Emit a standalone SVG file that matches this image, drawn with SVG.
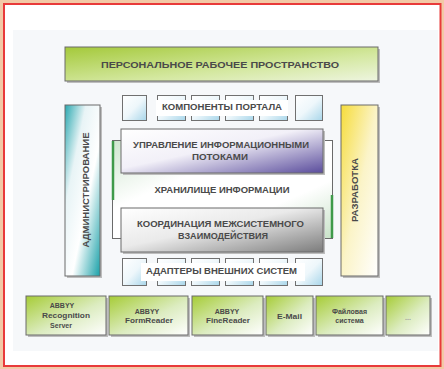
<svg xmlns="http://www.w3.org/2000/svg" width="444" height="369" viewBox="0 0 444 369">
<defs>
<style>
.t{font-family:"Liberation Sans",Arial,sans-serif;font-weight:bold;fill:#4a4a4a;text-anchor:middle;dominant-baseline:central}
.b{font-size:8.5px}
.s{font-size:7px}
.box{stroke:#6a6a6a;stroke-width:1}
.sh{fill:#bdbdbd}
.cell{fill:url(#gBlue);stroke:#707070;stroke-width:1}
</style>
<linearGradient id="gTop" x1="0" y1="0" x2="1" y2="1"><stop offset="0" stop-color="#a4c93a"/><stop offset="0.6" stop-color="#d4e8a0"/><stop offset="1" stop-color="#eef5e0"/></linearGradient>
<linearGradient id="gGreen" x1="0" y1="0" x2="1" y2="1"><stop offset="0" stop-color="#a6cc36"/><stop offset="0.55" stop-color="#dcecc0"/><stop offset="1" stop-color="#ffffff"/></linearGradient>
<linearGradient id="gBlue" x1="0" y1="0" x2="1" y2="1"><stop offset="0" stop-color="#ffffff"/><stop offset="0.5" stop-color="#eef7fb"/><stop offset="1" stop-color="#a8d6ea"/></linearGradient>
<linearGradient id="gTeal" x1="0" y1="0" x2="1" y2="1"><stop offset="0" stop-color="#2aa8b0"/><stop offset="0.3" stop-color="#e8f4f6"/><stop offset="0.6" stop-color="#ffffff"/><stop offset="1" stop-color="#18a0a8"/></linearGradient>
<linearGradient id="gYellow" x1="0" y1="0" x2="1" y2="1"><stop offset="0" stop-color="#f6dc3a"/><stop offset="0.5" stop-color="#fbf4c8"/><stop offset="1" stop-color="#ffffff"/></linearGradient>
<linearGradient id="gPurple" x1="0" y1="0" x2="1" y2="1"><stop offset="0" stop-color="#ffffff"/><stop offset="0.45" stop-color="#f2f0f8"/><stop offset="1" stop-color="#5a4c9c"/></linearGradient>
<linearGradient id="gGray" x1="0" y1="0" x2="1" y2="1"><stop offset="0" stop-color="#ffffff"/><stop offset="0.45" stop-color="#eaeaea"/><stop offset="1" stop-color="#7c7c7c"/></linearGradient>
<linearGradient id="gStore" x1="0" y1="0" x2="1" y2="1"><stop offset="0" stop-color="#cfe6cf"/><stop offset="0.35" stop-color="#ffffff"/><stop offset="0.7" stop-color="#ffffff"/><stop offset="1" stop-color="#c8e2c8"/></linearGradient>
</defs>

<rect x="0" y="0" width="444" height="369" fill="#f2c9a6"/>
<rect x="4" y="4" width="436.5" height="362" fill="#ffffff" stroke="#e83a3a" stroke-width="2"/>
<rect x="13" y="30" width="425" height="321" fill="#f6f8fa"/>

<g id="personal-workspace">
<rect class="sh" x="67" y="49" width="313" height="34"/>
<rect class="box" x="65" y="47" width="313" height="34" fill="url(#gTop)"/>
<text class="t b" x="220" y="65" textLength="238" lengthAdjust="spacingAndGlyphs">ПЕРСОНАЛЬНОЕ РАБОЧЕЕ ПРОСТРАНСТВО</text>
</g>

<g id="administration">
<rect class="sh" x="67" y="107" width="35" height="171"/>
<rect class="box" x="65" y="105" width="35" height="171" fill="url(#gTeal)"/>
<text class="t b" transform="translate(86,190) rotate(-90)" x="0" y="0" textLength="115" lengthAdjust="spacingAndGlyphs">АДМИНИСТРИРОВАНИЕ</text>
</g>

<g id="development">
<rect class="sh" x="343" y="107" width="37" height="171"/>
<rect class="box" x="341" y="105" width="37" height="171" fill="url(#gYellow)"/>
<text class="t b" transform="translate(355,190) rotate(-90)" x="0" y="0" textLength="64" lengthAdjust="spacingAndGlyphs">РАЗРАБОТКА</text>
</g>

<g id="portal-components">
<rect class="cell" x="122.5" y="95.5" width="24" height="25"/>
<rect class="cell" x="157.5" y="95.5" width="28" height="25"/>
<rect class="cell" x="191.5" y="95.5" width="28" height="25"/>
<rect class="cell" x="225.5" y="95.5" width="28" height="25"/>
<rect class="cell" x="259.5" y="95.5" width="28" height="25"/>
<rect class="cell" x="295.5" y="95.5" width="27" height="25"/>
<rect x="156" y="100" width="132" height="16" fill="#ffffff"/>
<text class="t b" x="222" y="107" textLength="120" lengthAdjust="spacingAndGlyphs">КОМПОНЕНТЫ ПОРТАЛА</text>
</g>

<g id="information-storage">
<rect class="box" x="112.5" y="140.5" width="220" height="98" fill="url(#gStore)" stroke="#8a8a8a"/>
<line x1="113" y1="141" x2="113" y2="200" stroke="#3f9a4a" stroke-width="2.5"/>
<line x1="332" y1="195" x2="332" y2="238" stroke="#3f9a4a" stroke-width="2.5"/>
<text class="t b" x="222" y="190" textLength="135" lengthAdjust="spacingAndGlyphs">ХРАНИЛИЩЕ ИНФОРМАЦИИ</text>
</g>

<g id="flow-management">
<rect class="sh" x="123" y="131" width="202" height="44"/>
<rect class="box" x="121" y="129" width="202" height="44" fill="url(#gPurple)"/>
<text class="t b" x="221" y="145" textLength="176" lengthAdjust="spacingAndGlyphs">УПРАВЛЕНИЕ ИНФОРМАЦИОННЫМИ</text>
<text class="t b" x="220" y="157" textLength="56" lengthAdjust="spacingAndGlyphs">ПОТОКАМИ</text>
</g>

<g id="coordination">
<rect class="sh" x="123" y="210" width="202" height="44"/>
<rect class="box" x="121" y="208" width="202" height="44" fill="url(#gGray)"/>
<text class="t b" x="220.5" y="224" textLength="167" lengthAdjust="spacingAndGlyphs">КООРДИНАЦИЯ МЕЖСИСТЕМНОГО</text>
<text class="t b" x="223" y="236" textLength="90" lengthAdjust="spacingAndGlyphs">ВЗАИМОДЕЙСТВИЯ</text>
</g>

<g id="external-adapters">
<rect class="cell" x="122.5" y="258.5" width="24" height="27"/>
<rect class="cell" x="157.5" y="258.5" width="28" height="27"/>
<rect class="cell" x="191.5" y="258.5" width="28" height="27"/>
<rect class="cell" x="225.5" y="258.5" width="28" height="27"/>
<rect class="cell" x="259.5" y="258.5" width="28" height="27"/>
<rect class="cell" x="295.5" y="258.5" width="27" height="27"/>
<rect x="141" y="263" width="164" height="18" fill="#ffffff"/>
<text class="t b" x="221.5" y="271" textLength="151" lengthAdjust="spacingAndGlyphs">АДАПТЕРЫ ВНЕШНИХ СИСТЕМ</text>
</g>

<g id="abbyy-recognition-server">
<rect class="sh" x="28" y="298" width="80" height="39"/>
<rect class="box" x="26" y="296" width="80" height="39" fill="url(#gGreen)"/>
<text class="t s" x="62" y="305">ABBYY</text>
<text class="t s" x="66" y="315" textLength="48" lengthAdjust="spacingAndGlyphs">Recognition</text>
<text class="t s" x="61" y="325">Server</text>
</g>

<g id="abbyy-formreader">
<rect class="sh" x="111" y="298" width="79" height="39"/>
<rect class="box" x="109" y="296" width="79" height="39" fill="url(#gGreen)"/>
<text class="t s" x="147" y="311">ABBYY</text>
<text class="t s" x="149" y="320" textLength="48" lengthAdjust="spacingAndGlyphs">FormReader</text>
</g>

<g id="abbyy-finereader">
<rect class="sh" x="194" y="298" width="71" height="39"/>
<rect class="box" x="192" y="296" width="71" height="39" fill="url(#gGreen)"/>
<text class="t s" x="227" y="311">ABBYY</text>
<text class="t s" x="228" y="320" textLength="44" lengthAdjust="spacingAndGlyphs">FineReader</text>
</g>

<g id="email">
<rect class="sh" x="268" y="298" width="47" height="39"/>
<rect class="box" x="266" y="296" width="47" height="39" fill="url(#gGreen)"/>
<text class="t s" x="289.5" y="316" textLength="25" lengthAdjust="spacingAndGlyphs">E-Mail</text>
</g>

<g id="file-system">
<rect class="sh" x="318" y="298" width="67" height="39"/>
<rect class="box" x="316" y="296" width="67" height="39" fill="url(#gGreen)"/>
<text class="t s" x="349.5" y="311">Файловая</text>
<text class="t s" x="349.5" y="320">система</text>
</g>

<g id="more">
<rect class="sh" x="388" y="298" width="44" height="39"/>
<rect class="box" x="386" y="296" width="44" height="39" fill="url(#gGreen)"/>
<text class="t s" x="408" y="317" fill="#9a9a9a" style="fill:#a0a0a0">...</text>
</g>

<g id="connectors"></g>
</svg>
